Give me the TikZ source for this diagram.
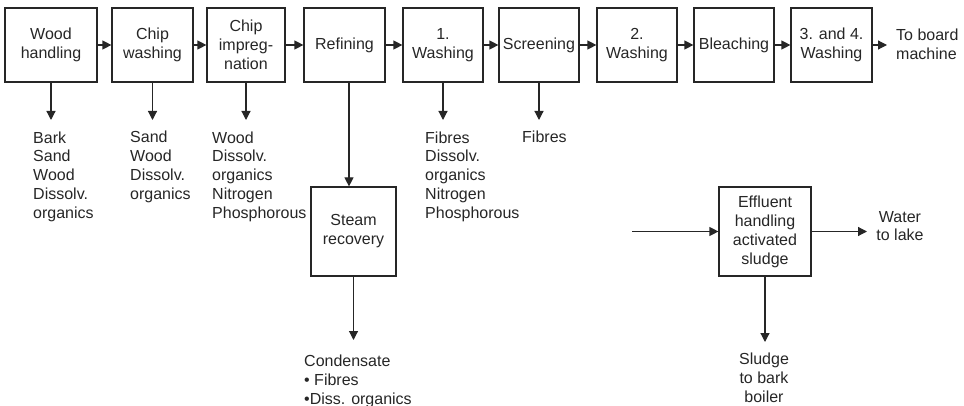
\documentclass[tikz,border=0pt]{standalone}
\usepackage{fontspec}
\setmainfont{Liberation Sans}
\usetikzlibrary{arrows.meta}
\definecolor{ink}{HTML}{262626}
\begin{document}
\begin{tikzpicture}[x=1pt,y=-1pt,
  every node/.style={font=\fontsize{16}{19}\selectfont, text=ink},
  proc/.style={draw=ink, line width=1.2pt, inner sep=0pt, align=center,
               minimum height=74pt},
  bigproc/.style={proc, minimum height=89pt},
  lbl/.style={inner sep=0pt, align=left, anchor=base west},
  clbl/.style={inner sep=0pt, align=center, anchor=base},
  flow/.style={draw=ink, line width=1.2pt, -{Triangle[length=9pt,width=9pt]}}]
\useasboundingbox (0,0) rectangle (964,406);

% main process line
\node[proc, minimum width=92pt] (wood)   at (51,45)    {Wood\\handling};
\node[proc, minimum width=81pt] (chipw)  at (152.5,45) {Chip\\washing};
\node[proc, minimum width=78pt] (chipi)  at (246,45)   {Chip\\impreg-\\nation};
\node[proc, minimum width=81pt] (refin)  at (344.5,45) {Refining};
\node[proc, minimum width=80pt] (wash1)  at (443,45)   {1.\\Washing};
\node[proc, minimum width=80pt] (screen) at (539,45)   {Screening};
\node[proc, minimum width=80pt] (wash2)  at (637,45)   {2.\\Washing};
\node[proc, minimum width=80pt] (bleach) at (734,45)   {Bleaching};
\node[proc, minimum width=81pt] (wash34) at (831.5,45) {3. and 4.\\Washing};
% multi-line labels are placed by the baseline of their last line
\node[lbl] (board) at (896,60) {To board\\machine};

\draw[flow] (wood) -- (chipw);
\draw[flow] (chipw) -- (chipi);
\draw[flow] (chipi) -- (refin);
\draw[flow] (refin) -- (wash1);
\draw[flow] (wash1) -- (screen);
\draw[flow] (screen) -- (wash2);
\draw[flow] (wash2) -- (bleach);
\draw[flow] (bleach) -- (wash34);
\draw[flow] (wash34.east) -- ([xshift=-9pt]board.west |- wash34.east);

% discharges from the main line
\coordinate (woodout)   at (51,120);
\coordinate (chipwout)  at (152.5,120);
\coordinate (chipiout)  at (246,120);
\coordinate (wash1out)  at (443,120);
\coordinate (screenout) at (539,120);
\draw[flow] (wood.south) -- (woodout);
\draw[flow] (chipw.south) -- (chipwout);
\draw[flow] (chipi.south) -- (chipiout);
\draw[flow] (wash1.south) -- (wash1out);
\draw[flow] (screen.south) -- (screenout);

\node[lbl] (woodlist)   at (33,219)  {Bark\\Sand\\Wood\\Dissolv.\\organics};
\node[lbl] (chipwlist)  at (130,200) {Sand\\Wood\\Dissolv.\\organics};
\node[lbl] (chipilist)  at (212,219) {Wood\\Dissolv.\\organics\\Nitrogen\\Phosphorous};
\node[lbl] (wash1list)  at (425,219) {Fibres\\Dissolv.\\organics\\Nitrogen\\Phosphorous};
\node[lbl] (screenlist) at (522,143) {Fibres};

% steam recovery branch
\node[bigproc, minimum width=85pt] (steam) at (353.5,231.5) {Steam\\recovery};
\draw[flow] ([xshift=4.5pt]refin.south) -- ([xshift=-4.5pt]steam.north);
\coordinate (steamout) at (353.5,340);
\draw[flow] (steam.south) -- (steamout);
\node[lbl] (cond) at (304,404) {Condensate\\\textbullet\ Fibres\\\textbullet Diss. organics};

% effluent treatment
\node[bigproc, minimum width=92pt] (effl) at (765,231.5) {Effluent\\handling\\activated\\sludge};
\coordinate (efflin) at (632,231.5);
\draw[flow] (efflin) -- (effl.west);
\node[clbl] (lake) at (900,241) {Water\\to lake};
\coordinate (efflright) at (867,231.5);
\draw[flow] (effl.east) -- (efflright);
\coordinate (efflout) at (765,342);
\draw[flow] (effl.south) -- (efflout);
\node[clbl] (sludge) at (764,402) {Sludge\\to bark\\boiler};
\end{tikzpicture}
\end{document}
